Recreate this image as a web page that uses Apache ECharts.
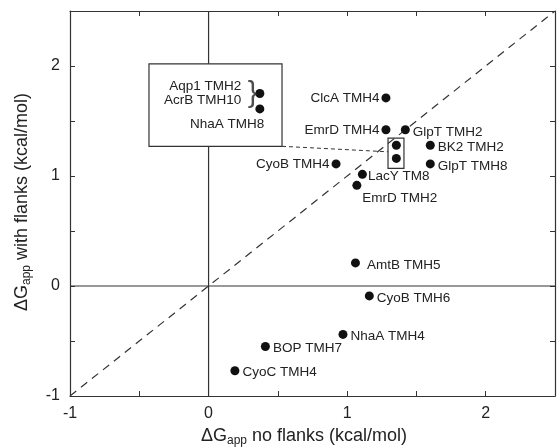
<!DOCTYPE html>
<html lang="en">
<head>
    <meta charset="UTF-8" />
    <title>dGapp flanks</title>
    <script src="https://cdn.jsdelivr.net/npm/echarts@6.0.0/dist/echarts.min.js"></script>
</head>
<body style="margin: 0">
    <div id="main" style="width: 558px; height: 448px"></div>

    <script>
        // 数据：无侧翼 / 有侧翼 ΔGapp
        var names = ["ClcA TMH4", "EmrD TMH4", "GlpT TMH2", "BK2 TMH2", "GlpT TMH8", "CyoB TMH4", "LacY TM8",
            "EmrD TMH2", "AmtB TMH5", "CyoB TMH6", "NhaA TMH4", "BOP TMH7", "CyoC TMH4"];
        var xNoFlanks = [1.28, 1.28, 1.42, 1.6, 1.6, 0.92, 1.11, 1.07, 1.06, 1.16, 0.97, 0.41, 0.19];
        var yWithFlanks = [1.71, 1.42, 1.42, 1.28, 1.11, 1.11, 1.015, 0.915, 0.21, -0.09, -0.44, -0.55, -0.77];

        // 放大框里的两个点
        var insetNames = ["Aqp1 TMH2\nAcrB TMH10", "NhaA TMH8"];
        var insetX = [0.37, 0.37];
        var insetY = [1.75, 1.61];

        // 小框里的原始位置
        var smallX = [1.355, 1.355];
        var smallY = [1.28, 1.16];

        var tickValues = [-1, 0, 1, 2];

        var font = "Liberation Sans, Arial, Helvetica, sans-serif";
        var ink = "#222";

        // 标签放在哪边
        var leftSide = ["ClcA TMH4", "EmrD TMH4", "CyoB TMH4"];
        var dist = { "AmtB TMH5": 7, "LacY TM8": 1 };

        var mainData = names.map(function (n, i) {
            var item = { name: n, value: [xNoFlanks[i], yWithFlanks[i]] };
            if (n === "EmrD TMH2") {
                item.label = { position: [10, 10], align: "left", verticalAlign: "top" };
            } else if (leftSide.indexOf(n) >= 0) {
                item.label = { position: "left", distance: 2 };
            } else {
                item.label = { position: "right", distance: dist[n] !== undefined ? dist[n] : 3, offset: [0, 2] };
            }
            return item;
        });

        var insetData = [
            { name: insetNames[0], value: [insetX[0], insetY[0]],
              label: { position: "left", distance: 14, lineHeight: 14 } },
            { name: insetNames[1], value: [insetX[1], insetY[1]],
              label: { position: [9, 13], align: "right", verticalAlign: "top" } }
        ];

        function tickFmt(v) {
            return tickValues.indexOf(v) >= 0 ? String(v) : "";
        }

        function axis(show, pos) {
            return {
                type: "value",
                position: pos,
                min: -1,
                max: 2.5,
                interval: 0.5,
                splitLine: { show: false },
                axisLine: { onZero: false, lineStyle: { color: "#333", width: 1.2 } },
                axisTick: { inside: true, length: 5, lineStyle: { color: "#333" } },
                axisLabel: { show: show, formatter: tickFmt, fontSize: 16, color: ink, fontFamily: font, margin: 10 }
            };
        }

        var titleRich = {
            a: { fontSize: 18, fontFamily: font, fill: ink, lineHeight: 22 },
            s: { fontSize: 12, fontFamily: font, fill: ink, lineHeight: 12, verticalAlign: "bottom" }
        };

        var mCharts = echarts.init(document.getElementById("main"));

        var option = {
            animation: false,
            grid: { left: 70, right: 1, top: 11, bottom: 52 },
            xAxis: [axis(true, "bottom"), axis(false, "top")],
            yAxis: [axis(true, "left"), axis(false, "right")],
            graphic: [
                {
                    type: "text",
                    x: 304,
                    y: 436,
                    style: {
                        text: "{a|ΔG}{s|app}{a| no flanks (kcal/mol)}",
                        align: "center",
                        verticalAlign: "middle",
                        rich: titleRich
                    }
                },
                {
                    type: "text",
                    x: 22,
                    y: 202,
                    rotation: Math.PI / 2,
                    style: {
                        text: "{a|ΔG}{s|app}{a| with flanks (kcal/mol)}",
                        align: "center",
                        verticalAlign: "middle",
                        rich: titleRich
                    }
                }
            ],
            series: [
                {
                    // 零线
                    type: "line",
                    data: [[0, -1], [0, 2.5]],
                    symbol: "none",
                    z: 1,
                    lineStyle: { color: "#333", width: 1.2 }
                },
                {
                    type: "line",
                    data: [[-1, 0], [2.5, 0]],
                    symbol: "none",
                    z: 1,
                    lineStyle: { color: "#333", width: 1.2 }
                },
                {
                    // y = x 虚线
                    type: "line",
                    data: [[-1, -1], [2.5, 2.5]],
                    symbol: "none",
                    z: 2,
                    lineStyle: { color: "#333", width: 1.2, type: [8, 6] }
                },
                {
                    // 连接两个框的虚线
                    type: "line",
                    data: [[0.53, 1.27], [1.295, 1.22]],
                    symbol: "none",
                    z: 2,
                    lineStyle: { color: "#333", width: 1, type: [4, 3] }
                },
                {
                    // 框
                    type: "scatter",
                    data: [],
                    z: 10,
                    markArea: {
                        silent: true,
                        z: 10,
                        data: [
                            [{ coord: [-0.43, 2.02], itemStyle: { color: "#fff", borderColor: "#333", borderWidth: 1.2 } },
                             { coord: [0.53, 1.27] }],
                            [{ coord: [1.295, 1.345], itemStyle: { color: "rgba(0,0,0,0)", borderColor: "#333", borderWidth: 1.2 } },
                             { coord: [1.41, 1.07] }]
                        ]
                    }
                },
                {
                    type: "scatter",
                    symbolSize: 9,
                    z: 20,
                    itemStyle: { color: "#111", opacity: 1 },
                    label: { show: true, formatter: "{b}", fontSize: 13.5, color: ink, fontFamily: font },
                    data: mainData
                },
                {
                    type: "scatter",
                    symbolSize: 9,
                    z: 20,
                    itemStyle: { color: "#111", opacity: 1 },
                    label: { show: true, formatter: "{b}", fontSize: 13.5, color: ink, fontFamily: font, align: "right" },
                    data: insetData
                },
                {
                    // 花括号
                    type: "scatter",
                    symbolSize: 0,
                    z: 20,
                    label: { show: true, formatter: "}", fontSize: 30, color: ink, fontFamily: font, position: "left", distance: 2 },
                    data: [[insetX[0], insetY[0]]]
                },
                {
                    type: "scatter",
                    symbolSize: 9,
                    z: 20,
                    itemStyle: { color: "#111", opacity: 1 },
                    data: smallX.map(function (x, i) { return [x, smallY[i]]; })
                }
            ]
        };
        mCharts.setOption(option);
    </script>
</body>
</html>
